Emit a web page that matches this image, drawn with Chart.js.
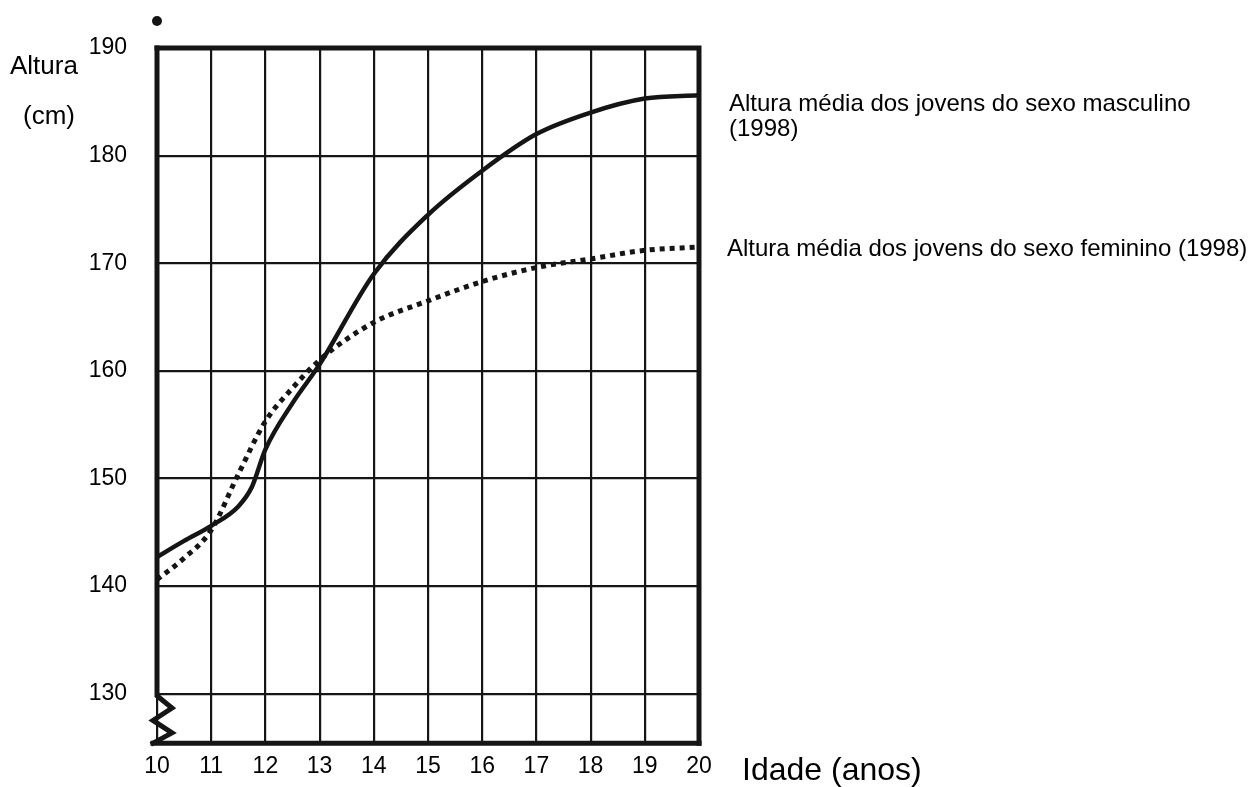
<!DOCTYPE html>
<html>
<head>
<meta charset="utf-8">
<script src="https://cdn.jsdelivr.net/npm/chart.js@4/dist/chart.umd.min.js"></script>
<style>
  html, body { margin: 0; padding: 0; background: #fff; }
  #wrap { position: relative; width: 1250px; height: 787px; }
</style>
</head>
<body>
<div id="wrap"><canvas id="chart" width="1250" height="787"></canvas></div>
<script>
// ages (x) and mean heights in cm (y)
const maleAges = [10, 10.5, 11, 11.5, 11.75, 12, 12.5, 13, 14, 15, 16, 17, 18, 19, 20];
const maleHeights = [142.7, 144.2, 145.6, 147.4, 149.2, 152.7, 157.0, 160.6, 169.0, 174.5, 178.6, 182.0, 184.0, 185.3, 185.6];
const femaleAges = [10, 10.5, 11, 11.5, 12, 12.5, 13, 14, 15, 16, 17, 18, 19, 20];
const femaleHeights = [140.6, 142.6, 145.2, 150.4, 155.3, 158.4, 161.0, 164.5, 166.5, 168.3, 169.6, 170.4, 171.2, 171.5];
const xTicks = [10, 11, 12, 13, 14, 15, 16, 17, 18, 19, 20];
const yTicks = [130, 140, 150, 160, 170, 180, 190];
const seriesNames = ["Altura média dos jovens do sexo masculino", "Altura média dos jovens do sexo feminino (1998)"];

const FONT = "'Liberation Sans', Arial, sans-serif";
const INK = "#151515";

// frame, axis break, titles and the notes on the right
const framePlugin = {
  id: "frame",
  afterDatasetsDraw(chart) {
    const { ctx, chartArea: a, scales } = chart;
    const y130 = scales.y.getPixelForValue(130);
    ctx.save();
    ctx.strokeStyle = INK;
    ctx.lineCap = "square";
    ctx.lineJoin = "miter";
    // top + right
    ctx.lineWidth = 5;
    ctx.beginPath();
    ctx.moveTo(a.left, a.top);
    ctx.lineTo(a.right, a.top);
    ctx.lineTo(a.right, a.bottom);
    ctx.stroke();
    // bottom
    ctx.beginPath();
    ctx.moveTo(a.left - 4, a.bottom);
    ctx.lineTo(a.right, a.bottom);
    ctx.stroke();
    // left with zigzag break
    ctx.beginPath();
    ctx.moveTo(a.left, a.top);
    ctx.lineTo(a.left, y130 + 2);
    const step = (a.bottom - y130) / 4;
    ctx.lineTo(a.left + 15, y130 + 2 + step * 1.0);
    ctx.lineTo(a.left - 4, y130 + 2 + step * 2.0);
    ctx.lineTo(a.left + 15, y130 + 2 + step * 3.0);
    ctx.lineTo(a.left - 4, a.bottom);
    ctx.stroke();
    // stray dot above the axis
    ctx.fillStyle = INK;
    ctx.beginPath();
    ctx.arc(a.left, a.top - 27, 5, 0, Math.PI * 2);
    ctx.fill();

    ctx.fillStyle = "#000";
    ctx.textBaseline = "middle";
    ctx.textAlign = "left";
    ctx.font = "26px " + FONT;
    ctx.fillText("Altura", 10, 67);
    ctx.fillText("(cm)", 23, 117);
    ctx.font = "32px " + FONT;
    ctx.fillText("Idade (anos)", 742, 771);

    ctx.font = "24px " + FONT;
    ctx.fillText(seriesNames[0], 729, 104);
    ctx.fillText("(1998)", 729, 129);
    ctx.fillText(seriesNames[1], 727, 249);
    ctx.restore();
  }
};

new Chart(document.getElementById("chart"), {
  type: "line",
  data: {
    datasets: [
      {
        label: seriesNames[0],
        data: maleAges.map((a, i) => ({ x: a, y: maleHeights[i] })),
        borderColor: INK,
        borderWidth: 4.5,
        pointRadius: 0,
        cubicInterpolationMode: "monotone",
      },
      {
        label: seriesNames[1],
        data: femaleAges.map((a, i) => ({ x: a, y: femaleHeights[i] })),
        borderColor: INK,
        borderWidth: 5,
        borderDash: [5, 5],
        borderCapStyle: "butt",
        pointRadius: 0,
        cubicInterpolationMode: "monotone",
      },
    ],
  },
  options: {
    responsive: false,
    animation: false,
    devicePixelRatio: 1,
    layout: { padding: { top: 48, right: 551, left: 0, bottom: 0 } },
    plugins: { legend: { display: false }, tooltip: { enabled: false } },
    scales: {
      x: {
        type: "linear",
        min: 10,
        max: 20,
        afterBuildTicks: (s) => { s.ticks = xTicks.map((v) => ({ value: v })); },
        afterFit: (s) => { s.height = 39; },
        grid: { color: INK, lineWidth: 2.2, drawTicks: false },
        border: { display: false },
        ticks: { color: "#000", padding: 10, maxRotation: 0, font: { family: FONT, size: 23 } },
      },
      y: {
        type: "linear",
        min: 125.4,
        max: 190,
        afterBuildTicks: (s) => { s.ticks = yTicks.map((v) => ({ value: v })); },
        afterFit: (s) => { s.width = 157; },
        grid: { color: INK, lineWidth: 2.2, drawTicks: false },
        border: { display: false },
        ticks: { color: "#000", padding: 30, font: { family: FONT, size: 23 } },
      },
    },
  },
  plugins: [framePlugin],
});
</script>
</body>
</html>
